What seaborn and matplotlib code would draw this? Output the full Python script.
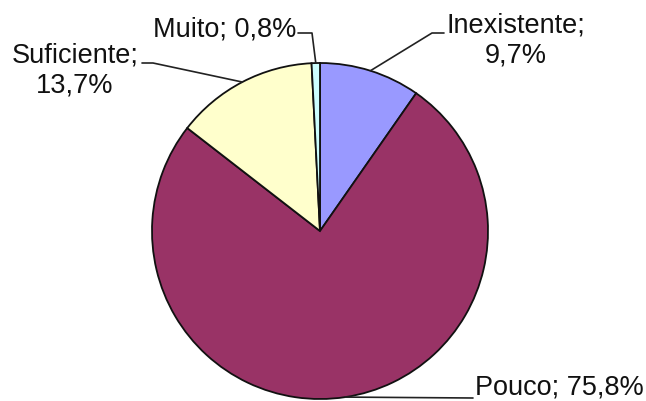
import numpy as np
import matplotlib
matplotlib.use("Agg")
import matplotlib.pyplot as plt
import seaborn as sns

# Data
categories = ["Inexistente", "Pouco", "Suficiente", "Muito"]
values = [9.7, 75.8, 13.7, 0.8]
value_labels = ["9,7%", "75,8%", "13,7%", "0,8%"]
colors = ["#9999FF", "#993366", "#FFFFCC", "#CCFFFF"]

sns.set_theme(style="white")
plt.rcParams["font.family"] = ["Liberation Sans", "DejaVu Sans"]

W, H = 646, 401
fig = plt.figure(figsize=(W / 100, H / 100), dpi=100)
cx, cy, r = 320, 231, 168
ax = fig.add_axes([(cx - r) / W, (H - cy - r) / H, 2 * r / W, 2 * r / H])

wedges, _ = ax.pie(values, colors=colors, startangle=90, counterclock=False,
                   radius=1, wedgeprops=dict(edgecolor="#111111", linewidth=1.3))
ax.set_xlim(-1, 1)
ax.set_ylim(-1, 1)
ax.set_aspect("equal")
ax.axis("off")

def px(x, y):
    return ((x - cx) / r, (cy - y) / r)

# label layout: (text position px, ha, leader knee px, leader end px, text)
layout = {
    "Inexistente": dict(pos=(516, 40), ha="center", knee=(432, 33), end=(444, 33),
                        text="Inexistente;\n" + value_labels[0]),
    "Pouco": dict(pos=(475, 388), ha="left", knee=None, end=(473, 398),
                  text="Pouco; " + value_labels[1]),
    "Suficiente": dict(pos=(75, 71), ha="center", knee=(153, 63), end=(142, 63),
                       text="Suficiente;\n" + value_labels[2]),
    "Muito": dict(pos=(225, 29), ha="center", knee=(312, 33), end=(298, 33),
                  text="Muito; " + value_labels[3]),
}

for w, cat in zip(wedges, categories):
    L = layout[cat]
    mid = np.deg2rad((w.theta1 + w.theta2) / 2)
    p0 = (np.cos(mid), np.sin(mid))
    pts = [p0]
    if L["knee"] is not None:
        pts.append(px(*L["knee"]))
    pts.append(px(*L["end"]))
    xs, ys = zip(*pts)
    ax.plot(xs, ys, color="#222222", lw=1.2, clip_on=False)
    tx, ty = px(*L["pos"])
    ax.text(tx, ty, L["text"], ha=L["ha"], va="center", multialignment="center",
            fontsize=19.5, color="#111111", clip_on=False, linespacing=1.2)

fig.savefig("out.png", dpi=100)
